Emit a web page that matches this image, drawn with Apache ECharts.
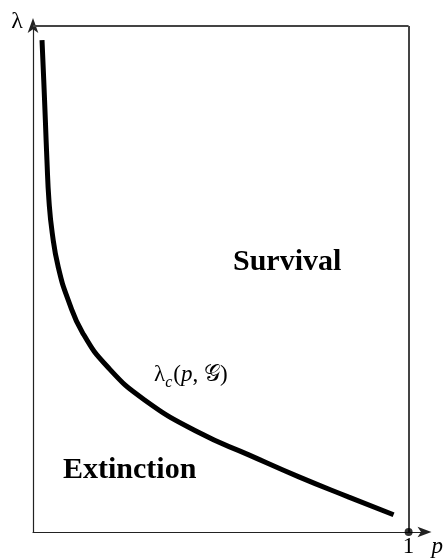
<!DOCTYPE html>
<html>
<head>
<meta charset="utf-8">
<script src="https://cdn.jsdelivr.net/npm/echarts@6/dist/echarts.min.js"></script>
<style>
  html, body { margin: 0; padding: 0; background: #fff; }
  #chart { width: 446px; height: 558px; }
</style>
</head>
<body>
<div id="chart"></div>
<script>
// 临界曲线 λc(p, G) 的读数 (p, λ)
var pValues = [0.024, 0.0286, 0.0329, 0.0371, 0.0424, 0.0512, 0.0671, 0.0936, 0.1326, 0.199, 0.297, 0.443, 0.576, 0.708, 0.841, 0.960];
var lambdaValues = [9.72, 8.93, 8.14, 7.35, 6.56, 5.91, 5.24, 4.59, 3.93, 3.26, 2.61, 1.96, 1.52, 1.09, 0.69, 0.34];
var boxTop = 10;      // 方框上边的 λ
var pEnd = 1;         // 方框右边的 p
var xTickLabels = ['1'];

;(function(){
    var chart = echarts.init(document.getElementById('chart'));
    var serif = 'Liberation Serif, DejaVu Serif, serif';

    var curve = pValues.map(function (p, i) { return [p, lambdaValues[i]]; });

    var option = {
        animation: false,
        grid: {
            left: 33,
            right: 19,
            top: 22,
            bottom: 26
        },
        xAxis: {
            type: 'value',
            min: 0,
            max: 1.045,
            interval: 1,
            name: 'p',
            nameLocation: 'end',
            nameGap: 6,
            nameTextStyle: {
                fontFamily: serif,
                fontStyle: 'italic',
                fontSize: 23,
                color: '#000',
                align: 'left',
                verticalAlign: 'top',
                padding: [3, 0, 0, 0]
            },
            splitLine: { show: false },
            axisTick: { show: false },
            axisLine: {
                symbol: ['none', 'arrow'],
                symbolSize: [8, 14],
                symbolOffset: [0, 6],
                lineStyle: { color: '#222', width: 1.2 }
            },
            axisLabel: {
                margin: 3,
                fontFamily: serif,
                fontSize: 23,
                color: '#000',
                formatter: function (v) { return v === 1 ? xTickLabels[0] : ''; }
            }
        },
        yAxis: {
            type: 'value',
            min: 0,
            max: 10.08,
            name: 'λ',
            nameLocation: 'end',
            nameGap: 0,
            nameTextStyle: {
                fontFamily: serif,
                fontSize: 24,
                color: '#000',
                align: 'right',
                verticalAlign: 'middle',
                padding: [0, 10, 0, 0]
            },
            splitLine: { show: false },
            axisTick: { show: false },
            axisLabel: { show: false },
            axisLine: {
                symbol: ['none', 'arrow'],
                symbolSize: [8, 15],
                symbolOffset: [0, 4],
                lineStyle: { color: '#222', width: 1.2 }
            }
        },
        series: [{
            name: 'λc(p, G)',
            type: 'line',
            data: curve,
            smooth: 0.5,
            showSymbol: false,
            lineStyle: { color: '#000', width: 5 },
            markLine: {
                silent: true,
                symbol: ['none', 'none'],
                label: { show: false },
                lineStyle: { color: '#444', width: 2, type: 'solid' },
                data: [
                    [{ coord: [0, boxTop] }, { coord: [pEnd, boxTop] }],
                    [{ coord: [pEnd, 0] }, { coord: [pEnd, boxTop] }]
                ]
            }
        }, {
            type: 'scatter',
            data: [[pEnd, 0]],
            symbolSize: 8,
            clip: false,
            itemStyle: { color: '#000' },
            z: 5
        }],
        graphic: [{
            type: 'text',
            x: 233,
            y: 262,
            style: {
                text: 'Survival',
                font: 'bold 30px ' + serif,
                fill: '#000',
                verticalAlign: 'middle'
            }
        }, {
            type: 'text',
            x: 63,
            y: 470,
            style: {
                text: 'Extinction',
                font: 'bold 30px ' + serif,
                fill: '#000',
                verticalAlign: 'middle'
            }
        }, {
            type: 'text',
            x: 154,
            y: 378,
            style: {
                text: '{a|λ}{b|c}{a|(}{i|p}{a|, 𝒢)}',
                verticalAlign: 'middle',
                rich: {
                    a: { fontFamily: serif, fontSize: 23, color: '#000', verticalAlign: 'bottom', lineHeight: 26, padding: [0, 0, 5, 0] },
                    i: { fontFamily: serif, fontSize: 23, fontStyle: 'italic', color: '#000', verticalAlign: 'bottom', lineHeight: 26, padding: [0, 0, 5, 0] },
                    b: { fontFamily: serif, fontSize: 16, fontStyle: 'italic', color: '#000', verticalAlign: 'bottom', lineHeight: 20, padding: [0, 1, 0, 0] }
                }
            }
        }]
    };

    chart.setOption(option);
})()
</script>
</body>
</html>
